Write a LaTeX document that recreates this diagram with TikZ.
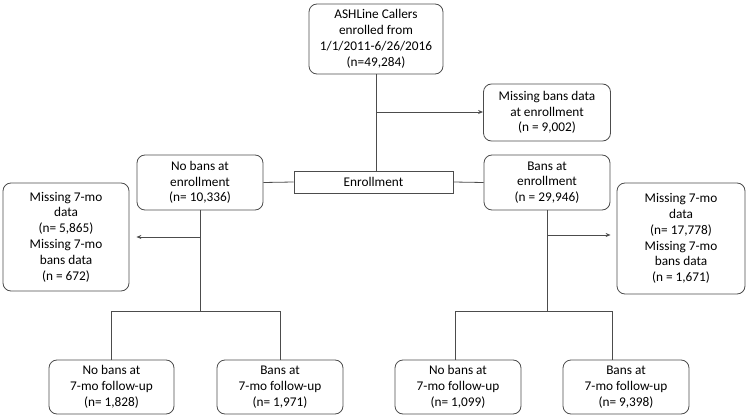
\documentclass[tikz,border=0pt]{standalone}
\usepackage{fontspec}
\setmainfont{Carlito}
\usetikzlibrary{arrows.meta}
\begin{document}
\begin{tikzpicture}[x=1pt,y=-1pt,
  box/.style={draw=black!70, line width=0.8pt, rounded corners=8pt, align=center, inner sep=1pt,
     font=\fontsize{13.3}{15.8}\selectfont, text=black},
  flat/.style={draw=black!70, line width=0.8pt, align=center, inner sep=1pt,
     font=\fontsize{13.3}{15.8}\selectfont, text=black},
  conn/.style={draw=black!70, line width=0.8pt},
  arr/.style={conn, -{Stealth[length=5pt,width=4pt]}}]
\useasboundingbox (0,0) rectangle (750,417);
\node[box, minimum width=134pt, minimum height=70pt] (top) at (376,39) {ASHLine Callers\\enrolled from\\1/1/2011-6/26/2016\\(n=49,284)};
\node[box, minimum width=127pt, minimum height=57pt] (missbans) at (547,112.5) {Missing bans data\\at enrollment\\(n = 9,002)};
\node[box, minimum width=126pt, minimum height=55pt] (noban) at (200,182.5) {No bans at\\enrollment\\(n= 10,336)};
\node[flat, minimum width=159pt, minimum height=22pt] (enroll) at (373.5,182) {Enrollment};
\node[box, minimum width=126pt, minimum height=55pt] (ban) at (547,182.5) {Bans at\\enrollment\\(n = 29,946)};
\node[box, minimum width=126pt, minimum height=108pt] (lmiss) at (66,237) {Missing 7-mo\\data\\(n= 5,865)\\Missing 7-mo\\bans data\\(n = 672)};
\node[box, minimum width=128pt, minimum height=111pt] (rmiss) at (681,238.5) {Missing 7-mo\\data\\(n= 17,778)\\Missing 7-mo\\bans data\\(n = 1,671)};
\node[box, minimum width=125pt, minimum height=54pt] (b1) at (111.5,387) {No bans at\\7-mo follow-up\\(n= 1,828)};
\node[box, minimum width=126pt, minimum height=54pt] (b2) at (280,387) {Bans at\\7-mo follow-up\\(n= 1,971)};
\node[box, minimum width=126pt, minimum height=54pt] (b3) at (458,387) {No bans at\\7-mo follow-up\\(n= 1,099)};
\node[box, minimum width=126pt, minimum height=54pt] (b4) at (626,387) {Bans at\\7-mo follow-up\\(n= 9,398)};
% top trunk
\draw[conn] (top.south) -- (top.south |- enroll.north);
\coordinate (j0) at (376,112);
\draw[arr] (j0) -- (missbans.west |- j0);
\draw[conn] (noban.east) -- (enroll.west);
\draw[conn] (enroll.east) -- (ban.west);
% left branch
\coordinate (lj) at (200,311);
\coordinate (la) at (200,237);
\draw[conn] (noban.south) -- (lj);
\draw[arr, shorten >=7pt] (la) -- (lmiss.east |- la);
\draw[conn] (b1.north) -- (b1.north |- lj) -- (b2.north |- lj) -- (b2.north);
% right branch
\coordinate (rj) at (547,311);
\coordinate (ra) at (547,235);
\coordinate (r4) at (612,311);
\draw[conn] (ban.south) -- (rj);
\draw[arr, shorten >=6pt] (ra) -- (rmiss.west |- ra);
\draw[conn] (b3.north -| 455,0) -- (455,311) -- (r4) -- (r4 |- b4.north);
\end{tikzpicture}
\end{document}
